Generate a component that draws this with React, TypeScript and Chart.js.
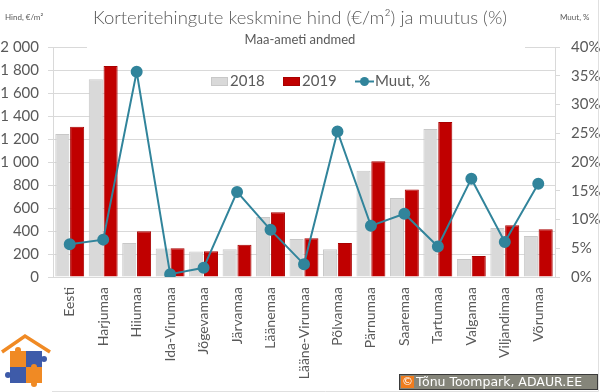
import React, { useEffect, useRef } from "react";
import { Chart, registerables } from "chart.js";

Chart.register(...registerables);

const categories = ["Eesti","Harjumaa","Hiiumaa","Ida-Virumaa","Jõgevamaa","Järvamaa","Läänemaa","Lääne-Virumaa","Põlvamaa","Pärnumaa","Saaremaa","Tartumaa","Valgamaa","Viljandimaa","Võrumaa"];
const price2018 = [1243,1719,296,248,222,241,522,330,241,925,687,1287,157,426,357];
const price2019 = [1307,1835,397,249,225,281,562,337,296,1006,760,1348,183,449,415];
const changePct = [5.7,6.5,35.7,0.5,1.6,14.8,8.2,2.2,25.3,8.9,11.0,5.3,17.1,6.1,16.2];

const TITLE = "Korteritehingute keskmine hind (€/m²) ja muutus (%)";
const SUBTITLE = "Maa-ameti andmed";
const LEFT_AXIS_LABEL = "Hind, €/m²";
const RIGHT_AXIS_LABEL = "Muut, %";
const COPYRIGHT = "Tõnu Toompark, ADAUR.EE";

const FONT = "Lato, 'Open Sans', sans-serif";
const TXT = "#595959";
const GRID = "#D9D9D9";
const C2018 = "#D9D9D9";
const C2019 = "#C00000";
const CLINE = "#31849B";

const decorPlugin = {
  id: "decor",
  afterDraw(chart: any) {
    const ctx = chart.ctx as CanvasRenderingContext2D;
    const area = chart.chartArea;
    ctx.save();
    // hide top gridline behind the title block
    ctx.fillStyle = "#ffffff";
    ctx.fillRect(87, area.top - 3, 438, 6);

    // title + subtitle
    ctx.fillStyle = TXT;
    ctx.textAlign = "center";
    ctx.textBaseline = "middle";
    ctx.font = `300 18.5px ${FONT}`;
    ctx.fillText(TITLE, 300, 18);
    ctx.font = `13px ${FONT}`;
    ctx.fillText(SUBTITLE, 300, 40);

    // corner axis labels
    ctx.font = `8px ${FONT}`;
    ctx.textAlign = "left";
    ctx.fillText(LEFT_AXIS_LABEL, 5, 17);
    ctx.fillText(RIGHT_AXIS_LABEL, 560, 17);

    // legend
    const ly = 81;
    const ds = chart.data.datasets;
    ctx.font = `15px ${FONT}`;
    ctx.textBaseline = "middle";
    let x = 211;
    for (let i = 0; i < 2; i++) {
      ctx.fillStyle = ds[i].backgroundColor;
      ctx.fillRect(x, ly - 4, 17, 9);
      ctx.strokeStyle = ds[i].borderColor;
      ctx.lineWidth = 1;
      ctx.strokeRect(x + 0.5, ly - 3.5, 16, 8);
      ctx.fillStyle = TXT;
      ctx.fillText(ds[i].label, x + 19, ly);
      x += 72;
    }
    x = 355;
    ctx.strokeStyle = CLINE;
    ctx.lineWidth = 2;
    ctx.beginPath();
    ctx.moveTo(x, ly + 0.5);
    ctx.lineTo(x + 19, ly + 0.5);
    ctx.stroke();
    ctx.fillStyle = CLINE;
    ctx.beginPath();
    ctx.arc(x + 9.5, ly + 0.5, 4.5, 0, Math.PI * 2);
    ctx.fill();
    ctx.fillStyle = TXT;
    ctx.fillText(ds[2].label, x + 20, ly);

    // logo (puzzle house)
    const orange = "#F08A24";
    const blue = "#3E5BA9";
    ctx.strokeStyle = orange;
    ctx.lineWidth = 3.5;
    ctx.lineJoin = "miter";
    ctx.beginPath();
    ctx.moveTo(2, 352);
    ctx.lineTo(25, 336);
    ctx.lineTo(50, 352);
    ctx.stroke();
    const px = 10, py = 351, s = 16;
    const quads: [number, number, string][] = [
      [px, py, orange],
      [px + s, py, blue],
      [px, py + s, blue],
      [px + s, py + s, orange],
    ];
    for (const [qx, qy, c] of quads) {
      ctx.fillStyle = c;
      ctx.fillRect(qx, qy, s, s);
    }
    ctx.fillStyle = orange;
    ctx.beginPath(); ctx.arc(px + s + s / 2, py + s, 3, 0, Math.PI * 2); ctx.fill();
    ctx.fillStyle = blue;
    ctx.beginPath(); ctx.arc(px + s * 2 + 2, py + s / 2, 3, 0, Math.PI * 2); ctx.fill();
    ctx.beginPath(); ctx.arc(px - 2, py + s * 1.5, 3, 0, Math.PI * 2); ctx.fill();
    ctx.fillStyle = orange;
    ctx.beginPath(); ctx.arc(px + s / 2, py - 1, 3, 0, Math.PI * 2); ctx.fill();
    ctx.beginPath(); ctx.arc(px + s * 1.5, py + s * 2 + 1, 3, 0, Math.PI * 2); ctx.fill();

    // copyright box
    ctx.fillStyle = "#85857A";
    ctx.fillRect(399, 374, 199, 16);
    ctx.strokeStyle = "#3a3a3a";
    ctx.lineWidth = 1;
    ctx.strokeRect(399.5, 374.5, 198, 15);
    ctx.fillStyle = "#F07C1E";
    ctx.fillRect(401, 376, 13, 12);
    ctx.fillStyle = "#ffffff";
    ctx.font = "11px 'DejaVu Sans', sans-serif";
    ctx.textAlign = "center";
    ctx.fillText("©", 407.5, 382.5);
    ctx.font = "12.5px 'DejaVu Sans', sans-serif";
    ctx.textAlign = "left";
    ctx.fillText(COPYRIGHT, 416, 382.5);

    // outer frame
    ctx.strokeStyle = "#E0E0E0";
    ctx.lineWidth = 1;
    ctx.beginPath();
    ctx.moveTo(598.5, 0);
    ctx.lineTo(598.5, 391.5);
    ctx.lineTo(52, 391.5);
    ctx.stroke();
    ctx.restore();
  },
};

export default function App() {
  const ref = useRef<HTMLCanvasElement>(null);
  useEffect(() => {
    document.body.style.margin = "0";
    const canvas = ref.current!;
    const chart = new Chart(canvas, {
      type: "bar",
      data: {
        labels: categories,
        datasets: [
          {
            type: "bar",
            label: "2018",
            data: price2018,
            backgroundColor: C2018,
            borderColor: "#C8C8C8",
            borderWidth: 1,
            yAxisID: "y",
            order: 2,
            categoryPercentage: 0.885,
            barPercentage: 0.95,
          },
          {
            type: "bar",
            label: "2019",
            data: price2019,
            backgroundColor: C2019,
            borderColor: "#A80000",
            borderWidth: 1,
            yAxisID: "y",
            order: 2,
            categoryPercentage: 0.885,
            barPercentage: 0.95,
          },
          {
            type: "line",
            label: "Muut, %",
            data: changePct,
            borderColor: CLINE,
            backgroundColor: CLINE,
            borderWidth: 2,
            pointRadius: 5,
            pointBackgroundColor: CLINE,
            pointBorderColor: CLINE,
            yAxisID: "y1",
            order: 0,
            tension: 0,
          },
        ] as any,
      },
      options: {
        responsive: false,
        animation: false,
        layout: { padding: { top: 47, left: 0, right: 0, bottom: 0 } },
        plugins: {
          legend: { display: false },
          title: { display: false },
          tooltip: { enabled: false },
        },
        scales: {
          x: {
            grid: { display: false, drawTicks: false },
            border: { display: true, color: GRID },
            ticks: {
              autoSkip: false,
              minRotation: 90,
              maxRotation: 90,
              padding: 10,
              color: TXT,
              font: { family: FONT, size: 14 },
            },
            afterFit: (s: any) => { s.height = 115; },
          },
          y: {
            position: "left",
            min: 0,
            max: 2000,
            ticks: {
              stepSize: 200,
              padding: 9,
              color: TXT,
              font: { family: FONT, size: 15 },
              callback: (v: any) => {
                const n = Number(v);
                return n >= 1000 ? `${Math.floor(n / 1000)} ${String(n % 1000).padStart(3, "0")}` : String(n);
              },
            },
            grid: { color: GRID, tickLength: 5, tickColor: GRID },
            border: { display: true, color: GRID },
            afterFit: (s: any) => { s.width = 53; },
          },
          y1: {
            position: "right",
            min: 0,
            max: 40,
            ticks: {
              stepSize: 5,
              padding: 11,
              color: TXT,
              font: { family: FONT, size: 15 },
              callback: (v: any) => `${v}%`,
            },
            grid: { drawOnChartArea: false, tickLength: 5, color: GRID, tickColor: GRID },
            border: { display: true, color: GRID },
            afterFit: (s: any) => { s.width = 45; },
          },
        },
      },
      plugins: [decorPlugin],
    });
    return () => chart.destroy();
  }, []);
  return <canvas ref={ref} width={600} height={392} style={{ display: "block" }} />;
}
